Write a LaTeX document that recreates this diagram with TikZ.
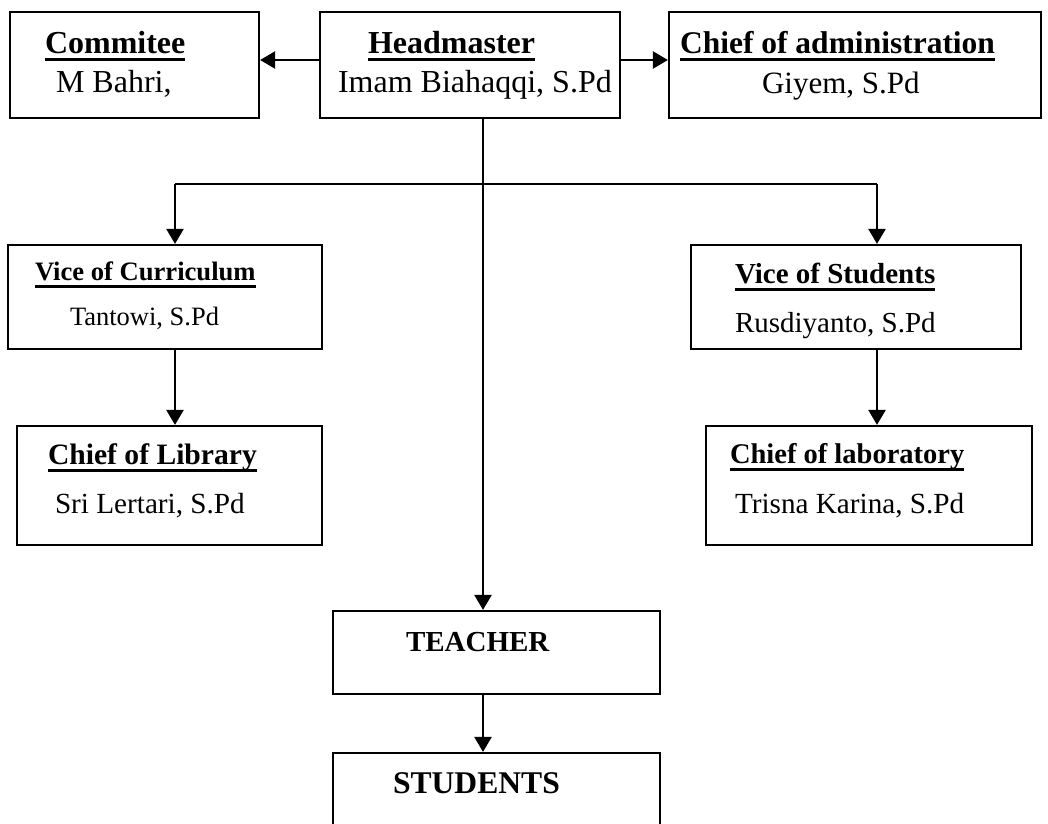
\documentclass[tikz,border=0pt]{standalone}
\usepackage{fontspec}
\setmainfont{Liberation Serif}
\usetikzlibrary{arrows.meta}
\newcommand{\ulhd}[1]{\setbox0\hbox{\bfseries #1}\rlap{\raisebox{-7.5pt}{\rule{\wd0}{2.5pt}}}\box0}
\tikzset{
  box/.style={draw=black, line width=2.2pt, rectangle, inner sep=0pt, fill=none},
  txt/.style={anchor=base west, inner sep=0pt, outer sep=0pt},
  arr/.style={line width=2.4pt, -{Triangle[length=15pt,width=17pt]}},
  ln/.style={line width=2.4pt},
}
\newcommand{\fs}[1]{\fontsize{#1}{#1}\selectfont}
\begin{document}
\begin{tikzpicture}[x=1pt,y=-1pt]
\clip (0,0) rectangle (1048,823);
\fill[white] (0,0) rectangle (1048,823);
% boxes
\node[box, minimum width=249pt, minimum height=106pt] (com) at (134.5,65) {};
\node[box, minimum width=300pt, minimum height=106pt] (hm) at (470,65) {};
\node[box, minimum width=372pt, minimum height=106pt] (adm) at (855,65) {};
\node[box, minimum width=314pt, minimum height=104pt] (vc) at (165,297) {};
\node[box, minimum width=330pt, minimum height=104pt] (vs) at (856,297) {};
\node[box, minimum width=305pt, minimum height=119pt] (cl) at (169.5,485.5) {};
\node[box, minimum width=326pt, minimum height=119pt] (lab) at (869,485.5) {};
\node[box, minimum width=327pt, minimum height=83pt] (teacher) at (496.5,652.5) {};
\node[box, minimum width=327pt, minimum height=100pt] (students) at (496.5,803) {};
% texts
\node[txt] (comT) at (45,53) {\fs{32}\ulhd{Commitee}};
\node[txt] (comN) at (56,92) {\fs{32}M Bahri,};
\node[txt] (hmT) at (368,53) {\fs{32}\ulhd{Headmaster}};
\node[txt] (hmN) at (338,92) {\fs{32}Imam Biahaqqi, S.Pd};
\node[txt] (admT) at (680,53) {\fs{31.5}\ulhd{Chief of administration}};
\node[txt] (admN) at (762,93) {\fs{31}Giyem, S.Pd};
\node[txt] (vcT) at (35,280) {\fs{26.6}\ulhd{Vice of Curriculum}};
\node[txt] (vcN) at (70,325) {\fs{26.5}Tantowi, S.Pd};
\node[txt] (vsT) at (735,283) {\fs{29}\ulhd{Vice of Students}};
\node[txt] (vsN) at (735,332) {\fs{29}Rusdiyanto, S.Pd};
\node[txt] (clT) at (48,464) {\fs{29.6}\ulhd{Chief of Library}};
\node[txt] (clN) at (55,513) {\fs{29.2}Sri Lertari, S.Pd};
\node[txt] (labT) at (730,463) {\fs{28.5}\ulhd{Chief of laboratory}};
\node[txt] (labN) at (735,513) {\fs{29.2}Trisna Karina, S.Pd};
\node[txt] (teacherT) at (406,651) {\fs{29}\bfseries TEACHER};
\node[txt] (studentsT) at (393,793) {\fs{31.6}\bfseries STUDENTS};
% junctions
\coordinate (tr) at (483,184);
\coordinate (jl) at (175,184);
\coordinate (jr) at (877,184);
% connectors
\draw[arr] ([yshift=5pt]hm.west) -- ([yshift=5pt]com.east);
\draw[arr] ([yshift=5pt]hm.east) -- ([yshift=5pt]adm.west);
\draw[arr] (hm.south -| tr) -- (tr |- teacher.north);
\draw[ln] (jl) -- (jr);
\draw[arr] (jl) -- (jl |- vc.north);
\draw[arr] (jr) -- (jr |- vs.north);
\draw[arr] (jl |- vc.south) -- (jl |- cl.north);
\draw[arr] (jr |- vs.south) -- (jr |- lab.north);
\draw[arr] (tr |- teacher.south) -- (tr |- students.north);
\end{tikzpicture}
\end{document}
